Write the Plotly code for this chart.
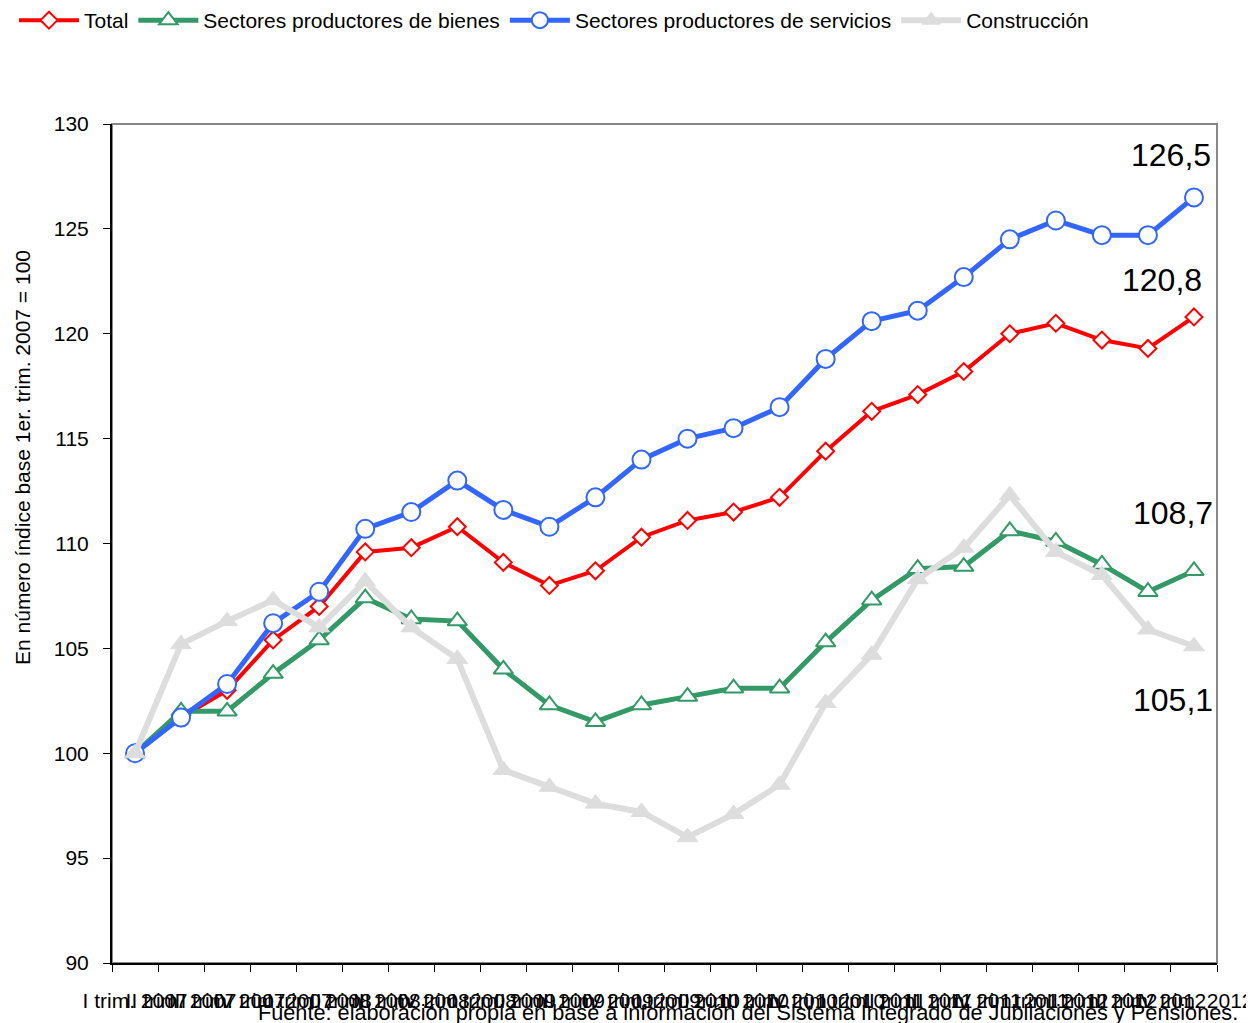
import plotly.graph_objects as go

quarters = ["I", "II", "III", "IV"]
years = ["2007", "2008", "2009", "2010", "2011", "2012"]
categories = [f"{q} trim. {y}" for y in years for q in quarters]

total = [100.0, 101.7, 103.0, 105.4, 107.0, 109.6, 109.8, 110.8, 109.1, 108.0, 108.7, 110.3,
         111.1, 111.5, 112.2, 114.4, 116.3, 117.1, 118.2, 120.0, 120.5, 119.7, 119.3, 120.8]
bienes = [100.0, 102.0, 102.0, 103.8, 105.4, 107.4, 106.4, 106.3, 104.0, 102.3, 101.5, 102.3,
          102.7, 103.1, 103.1, 105.3, 107.3, 108.8, 108.9, 110.6, 110.1, 109.0, 107.7, 108.7]
servicios = [100.0, 101.7, 103.3, 106.2, 107.7, 110.7, 111.5, 113.0, 111.6, 110.8, 112.2, 114.0,
             115.0, 115.5, 116.5, 118.8, 120.6, 121.1, 122.7, 124.5, 125.4, 124.7, 124.7, 126.5]
construccion = [100.0, 105.2, 106.3, 107.3, 106.0, 108.2, 106.0, 104.5, 99.2, 98.4, 97.6, 97.2,
                96.0, 97.1, 98.5, 102.4, 104.7, 108.3, 109.8, 112.3, 109.6, 108.5, 105.9, 105.1]

end_labels = ["126,5", "120,8", "108,7", "105,1"]

FONT = "Liberation Sans, Arial, sans-serif"

# page is offset by the 8px body margin; plot area target (page px): x 112-1217, y 124-963
L, T, R, B = 104, 116, 45, 68
PW, PH = 1254 - L - R, 1023 - T - B


def px(xp):
    return (xp - 8 - L) / PW


def py(yp):
    return (1023 - B - (yp - 8)) / PH


fig = go.Figure()
fig.add_trace(go.Scatter(
    x=categories, y=total, name="Total", mode="lines+markers",
    line=dict(color="#FF0000", width=4),
    marker=dict(symbol="diamond", size=13, color="white", line=dict(color="#FF0000", width=2))))
fig.add_trace(go.Scatter(
    x=categories, y=bienes, name="Sectores productores de bienes", mode="lines+markers",
    line=dict(color="#339966", width=5),
    marker=dict(symbol="triangle-up", size=17, color="white", line=dict(color="#339966", width=2))))
fig.add_trace(go.Scatter(
    x=categories, y=servicios, name="Sectores productores de servicios", mode="lines+markers",
    line=dict(color="#3366FF", width=5),
    marker=dict(symbol="circle", size=18, color="white", line=dict(color="#3366FF", width=2))))
fig.add_trace(go.Scatter(
    x=categories, y=construccion, name="Construcción", mode="lines+markers",
    line=dict(color="#DDDDDD", width=6),
    marker=dict(symbol="triangle-up", size=18, color="#DDDDDD", line=dict(color="#DDDDDD", width=1))))

annots = [
    dict(x=22.5, y=128.5, text=end_labels[0]),
    dict(x=22.3, y=122.56, text=end_labels[1]),
    dict(x=22.55, y=111.45, text=end_labels[2]),
    dict(x=22.55, y=102.55, text=end_labels[3]),
]
for a in annots:
    fig.add_annotation(x=a["x"], y=a["y"], text=a["text"], xref="x", yref="y",
                       showarrow=False, font=dict(size=32, color="black", family=FONT))

fig.add_annotation(text="En número índice base 1er. trim. 2007 = 100", xref="paper", yref="paper",
                   x=px(22), y=py(458), textangle=-90, showarrow=False,
                   xanchor="center", yanchor="middle",
                   font=dict(size=21, color="black", family=FONT))
fig.add_annotation(text="Fuente: elaboración propia en base a información del Sistema Integrado de Jubilaciones y Pensiones.",
                   xref="paper", yref="paper", x=px(1240), y=py(1012),
                   xanchor="right", yanchor="middle", showarrow=False,
                   font=dict(size=21.7, color="black", family=FONT))

fig.add_shape(type="rect", xref="paper", yref="paper", x0=0, y0=0, x1=1, y1=1,
              line=dict(color="#888888", width=2), layer="below")

fig.update_layout(
    width=1254, height=1023,
    margin=dict(l=L, r=R, t=T, b=B, autoexpand=False),
    paper_bgcolor="white", plot_bgcolor="white",
    font=dict(family=FONT, size=21, color="black"),
    showlegend=True,
    legend=dict(orientation="h", x=px(14), y=py(0), xanchor="left", yanchor="top",
                font=dict(size=21, family=FONT), itemwidth=60, tracegroupgap=0,
                bgcolor="rgba(0,0,0,0)"),
    xaxis=dict(type="category", range=[-0.5, 23.5], tickson="boundaries", ticks="outside",
               ticklen=7, tickcolor="black", showline=True, linecolor="black", linewidth=2,
               showgrid=False, zeroline=False, tickangle=0, automargin=False,
               ticklabelstandoff=18,
               tickfont=dict(size=21, family=FONT, color="black")),
    yaxis=dict(range=[90, 130], dtick=5, ticks="outside", ticklen=7, tickcolor="black",
               showline=True, linecolor="black", linewidth=2, showgrid=False, zeroline=False,
               automargin=False, ticklabelstandoff=10,
               tickfont=dict(size=21, family=FONT, color="black")),
)

fig.write_html("out.html")
